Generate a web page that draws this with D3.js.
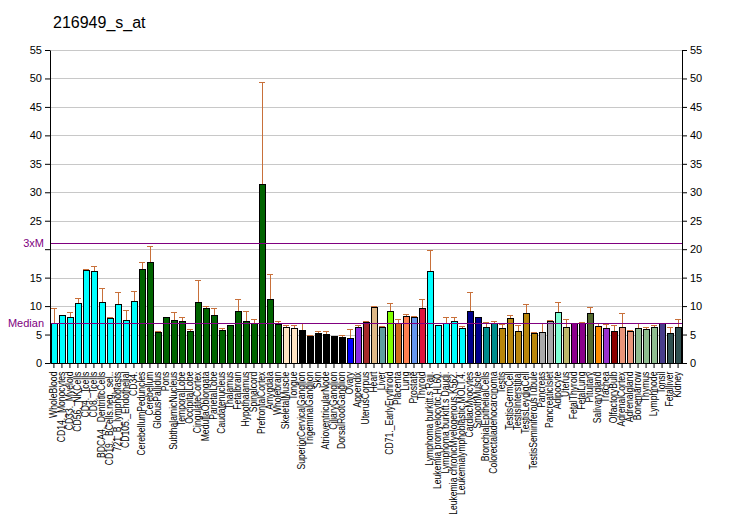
<!DOCTYPE html>
<html><head><meta charset="utf-8">
<script src="https://cdn.jsdelivr.net/npm/d3@7"></script>
<style>body{margin:0;background:#fff;}svg{display:block;font-family:Arial,"Liberation Sans",sans-serif;}</style>
</head><body>
<svg id="c" width="732" height="530"></svg>
<script>
const title = "216949_s_at";
const categories = ["WholeBlood","CD14._Monocytes","CD33._Myeloid","CD56._NKCells","CD4._Tcells","CD8._Tcells","BDCA4._DentriticCells","CD19._BCells.neg._sel..","721_B_lymphoblasts","CD105._Endothelial","CD34.","CerebellumPeduncles","Cerebellum","GlobusPallidus","Pons","SubthalamicNucleus","TemporalLobe","OccipitalLobe","CingulateCortex","MedullaOblongata","ParietalLobe","Caudatenucleus","Thalamus","Fetalbrain","Hypothalamus","Spinalcord","PrefrontalCortex","Amygdala","Wholebrain","SkeletalMuscle","Tongue","SuperiorCervicalGanglion","TrigeminalGanglion","Skin","AtrioventricularNode","CiliaryGanglion","DorsalRootGanglion","Ovary","Appendix","UterusCorpus","Heart","Liver","CD71._EarlyErythroid","Placenta","Lung","Prostate","Thyroid","Lymphoma burkitt.s Raji.","Leukemia promyelocytic.HL60.","Lymphoma burkitt.s Daudi.","Leukemia chronicMyelogenous.K562.","Leukemialymphoblastic.MOLT.4.","CardiacMyocytes","SmoothMuscle","BronchialEpithelialCells","Colorectaladenocarcinoma","Testis","TestisGermCell","TestisInterstitial","TestisLeydigCell","TestisSeminiferousTubule","Pancreas","PancreaticIslet","Adipocyte","Uterus","FetalThyroid","FetalLung","Pituitary","Salivarygland","Trachea","OlfactoryBulb","AdrenalCortex","Adrenalgland","Bonemarrow","Thymus","Lymphnode","Tonsil","Fetalliver","Kidney"];
const values = [7.06,8.5,8.1,10.6,16.4,16.1,10.8,7.9,10.4,7.6,10.9,16.6,17.8,5.5,8.1,7.6,7.4,5.6,10.8,9.7,8.5,5.8,6.7,9.2,7.4,7.1,31.4,11.3,6.9,6.35,6.2,5.8,4.8,5.3,5.1,4.8,4.6,4.4,6.35,7.2,9.9,6.35,9.2,7.06,8.3,8.1,9.7,16.1,6.7,7.06,7.4,6.2,9.2,8.1,6.35,7.06,6.2,7.9,5.6,8.8,5.3,5.5,7.4,9.0,6.35,7.06,7.06,8.8,6.5,6.2,5.6,6.35,5.6,6.2,6.0,6.35,7.06,5.3,6.35];
const errTops = [9.7,8.5,9.0,11.5,16.6,17.1,13.2,8.1,12.5,9.4,12.7,17.8,20.6,5.6,8.1,9.0,8.1,6.0,14.5,10.1,9.7,6.2,6.7,11.3,9.2,7.8,49.3,15.7,7.4,6.7,6.7,7.06,4.9,5.6,5.6,4.8,4.9,6.0,6.7,7.4,10.1,6.5,10.6,7.8,8.6,8.3,11.3,19.8,6.7,8.1,8.1,6.5,12.4,8.1,7.2,7.4,6.9,8.5,6.7,10.4,5.5,7.06,7.6,10.8,7.8,7.06,7.2,9.9,7.06,6.9,6.7,8.8,5.8,7.06,6.35,6.7,7.06,6.35,7.8];
const colors = ["#00FFFF","#00FFFF","#00FFFF","#00FFFF","#00FFFF","#00FFFF","#00FFFF","#00FFFF","#00FFFF","#00FFFF","#00FFFF",
"#006400","#006400","#006400","#006400","#006400","#006400","#006400","#006400","#006400","#006400","#006400","#006400","#006400","#006400","#006400","#006400","#006400","#006400",
"#FFE4C4","#FFE4C4","#000000","#000000","#000000","#000000","#000000","#000000",
"#0000FF","#8A2BE2","#A52A2A","#DEB887","#5F9EA0","#7FFF00","#D2691E","#FF7F50","#6495ED","#DC143C",
"#00FFFF","#00FFFF","#00FFFF","#00FFFF","#00FFFF","#00008B","#00008B","#008B8B","#008B8B",
"#B8860B","#B8860B","#B8860B","#B8860B","#B8860B","#A9A9A9","#A9A9A9","#7FFFD4","#BDB76B","#8B008B","#8B008B","#556B2F","#FF8C00","#9932CC","#8B0000","#E9967A","#E9967A","#8FBC8F","#8FBC8F","#8FBC8F","#483D8B","#2F4F4F","#2F4F4F"];
const yTicks = [0,5,10,15,20,25,30,35,40,45,50,55];
const median = 7.05;
const threeXM = 21.15;

const svg = d3.select("#c");
const L = 50, R = 682, T = 50, B = 363;
const x = d3.scaleBand().domain(categories).range([L, R]).paddingInner(0.18).paddingOuter(0.08);
const y = d3.scaleLinear().domain([0, 55]).range([B, T]);

svg.append("text").attr("x", 53).attr("y", 28).attr("font-size", 16).attr("fill", "#000").text(title);

// gridlines
svg.append("g").selectAll("line").data(yTicks.filter(d => d > 0)).join("line")
  .attr("x1", L).attr("x2", R).attr("y1", d => Math.round(y(d)) + 0.5).attr("y2", d => Math.round(y(d)) + 0.5)
  .attr("stroke", "#c8c8c8").attr("stroke-width", 1);

// bars
const data = categories.map((c, i) => ({c, v: values[i], e: errTops[i], col: colors[i]}));
svg.append("g").selectAll("rect").data(data).join("rect")
  .attr("x", d => Math.round(x(d.c)) + 0.5).attr("y", d => Math.round(y(d.v)) + 0.5)
  .attr("width", Math.round(x.bandwidth()) - 1).attr("height", d => Math.round(y(0)) - Math.round(y(d.v)))
  .attr("fill", d => d.col).attr("stroke", "#000").attr("stroke-width", 1);

// error bars
const eg = svg.append("g").attr("stroke", "#C8703A").attr("stroke-width", 1).attr("shape-rendering", "crispEdges");
data.filter(d => d.e > d.v + 0.05).forEach(d => {
  const cx = Math.round(x(d.c) + x.bandwidth() / 2);
  eg.append("line").attr("x1", cx).attr("x2", cx).attr("y1", y(d.v)).attr("y2", y(d.e));
  eg.append("line").attr("x1", cx - 3).attr("x2", cx + 3).attr("y1", Math.round(y(d.e)) + 0.5).attr("y2", Math.round(y(d.e)) + 0.5);
});

// median & 3xM lines
[median, threeXM].forEach(v => {
  svg.append("line").attr("x1", L).attr("x2", R).attr("y1", Math.round(y(v)) + 0.5).attr("y2", Math.round(y(v)) + 0.5)
    .attr("stroke", "#800080").attr("stroke-width", 1);
});
svg.append("text").attr("x", 44).attr("y", y(median) + 4).attr("text-anchor", "end").attr("font-size", 11).attr("fill", "#800080").text("Median");
svg.append("text").attr("x", 44).attr("y", y(threeXM) + 4).attr("text-anchor", "end").attr("font-size", 11).attr("fill", "#800080").text("3xM");

// axes
const yl = svg.append("g").attr("transform", `translate(${L},0)`).call(d3.axisLeft(y).tickValues(yTicks).tickSize(5).tickSizeOuter(0));
const yr = svg.append("g").attr("transform", `translate(${R},0)`).call(d3.axisRight(y).tickValues(yTicks).tickSize(5).tickSizeOuter(0));
[yl, yr].forEach(g => { g.selectAll("text").attr("font-size", 11).attr("font-family", "Arial, Liberation Sans, sans-serif").attr("fill", "#000"); g.selectAll("line,path").attr("stroke", "#000"); });
// left "20" label is covered by the 3xM label in the reference
yl.selectAll(".tick").filter(d => d === 20).select("text").remove();

const xa = svg.append("g").attr("transform", `translate(0,${B})`).call(d3.axisBottom(x).tickSize(5).tickSizeOuter(0));
xa.selectAll("line,path").attr("stroke", "#000");
xa.selectAll("text").attr("font-size", 10).attr("font-family", "Arial, Liberation Sans, sans-serif").attr("fill", "#000")
  .attr("transform", "rotate(-90) scale(0.86,1)").attr("text-anchor", "end").attr("dx", 0).attr("dy", 0).attr("x", -10).attr("y", 0)
  .attr("dominant-baseline", "middle");
</script>
</body></html>
